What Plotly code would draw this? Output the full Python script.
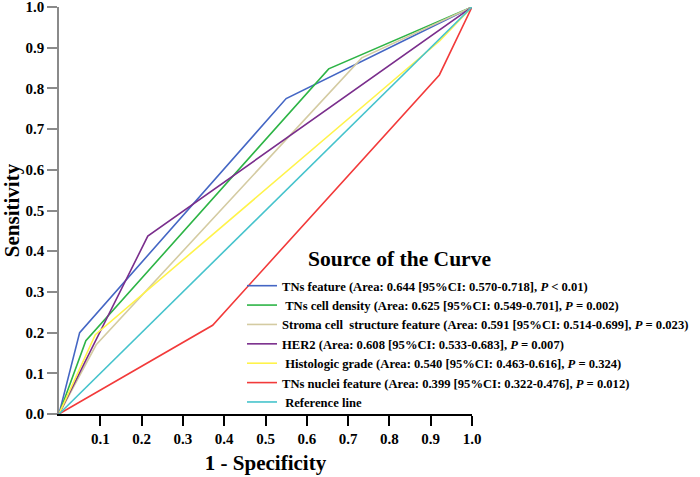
import plotly.graph_objects as go

# ROC curve points (1 - Specificity, Sensitivity)
tns_feature_x = [0.0, 0.05, 0.55, 1.0]
tns_feature_y = [0.0, 0.20, 0.775, 1.0]

tns_density_x = [0.0, 0.065, 0.653, 1.0]
tns_density_y = [0.0, 0.18, 0.848, 1.0]

stroma_x = [0.0, 0.09, 0.733, 1.0]
stroma_y = [0.0, 0.17, 0.875, 1.0]

her2_x = [0.0, 0.215, 1.0]
her2_y = [0.0, 0.437, 1.0]

grade_x = [0.0, 0.088, 0.922, 1.0]
grade_y = [0.0, 0.195, 0.917, 1.0]

nuclei_x = [0.0, 0.372, 0.921, 1.0]
nuclei_y = [0.0, 0.218, 0.833, 1.0]

ref_x = [0.0, 1.0]
ref_y = [0.0, 1.0]

names = [
    "TNs feature (Area: 0.644 [95%CI: 0.570-0.718], <i>P</i> &lt; 0.01)",
    "\u00a0TNs cell density (Area: 0.625 [95%CI: 0.549-0.701], <i>P</i> = 0.002)",
    "Stroma cell\u00a0 structure feature (Area: 0.591 [95%CI: 0.514-0.699], <i>P</i> = 0.023)",
    "HER2 (Area: 0.608 [95%CI: 0.533-0.683], <i>P</i> = 0.007)",
    "\u00a0Histologic grade (Area: 0.540 [95%CI: 0.463-0.616], <i>P</i> = 0.324)",
    "TNs nuclei feature (Area: 0.399 [95%CI: 0.322-0.476], <i>P</i> = 0.012)",
    "\u00a0Reference line",
]
colors = ["#4466C4", "#2DB446", "#D4CBA2", "#7A2E8C", "#FFF34A", "#F23A3A", "#45C3CC"]
xs = [tns_feature_x, tns_density_x, stroma_x, her2_x, grade_x, nuclei_x, ref_x]
ys = [tns_feature_y, tns_density_y, stroma_y, her2_y, grade_y, nuclei_y, ref_y]

x_ticks = [0.1, 0.2, 0.3, 0.4, 0.5, 0.6, 0.7, 0.8, 0.9, 1.0]
y_ticks = [0.0, 0.1, 0.2, 0.3, 0.4, 0.5, 0.6, 0.7, 0.8, 0.9, 1.0]

FONT = "Liberation Serif"

fig = go.Figure()
for x, y, n, c in zip(xs, ys, names, colors):
    fig.add_trace(go.Scatter(x=x, y=y, mode="lines", name="<b>" + n + "</b>",
                             line=dict(color=c, width=1.6), cliponaxis=False))

fig.update_layout(
    template="none",
    width=700, height=477,
    margin=dict(l=59, r=228, t=7, b=63, autoexpand=False),
    plot_bgcolor="white", paper_bgcolor="white",
    font=dict(family=FONT, color="black"),
    showlegend=True,
    legend=dict(
        x=(242 - 59) / 413, y=(414 - 271) / 407, xanchor="left", yanchor="top",
        bgcolor="rgba(0,0,0,0)", borderwidth=0,
        font=dict(family=FONT, size=12.6, color="black"),
        itemwidth=30, tracegroupgap=0,
    ),
    annotations=[dict(
        text="<b>Source of the Curve</b>", xref="paper", yref="paper",
        x=(306 - 59) / 413, y=(414 - 259) / 407, xanchor="left", yanchor="middle",
        showarrow=False, font=dict(family=FONT, size=21.5, color="black"),
    )],
)

fig.update_xaxes(
    range=[0, 1], tickvals=x_ticks, ticktext=["<b>%.1f</b>" % v for v in x_ticks],
    showgrid=False, zeroline=False, showline=True, linecolor="black", linewidth=1.5,
    ticks="outside", ticklen=10, tickwidth=1.5, tickcolor="black",
    tickfont=dict(family=FONT, size=15, color="black"), automargin=False,
    ticklabeloverflow="allow",
    title=dict(text="<b>1 - Specificity</b>", font=dict(family=FONT, size=21, color="black"), standoff=10),
)
fig.update_yaxes(
    range=[0, 1], tickvals=y_ticks, ticktext=["<b>%.1f</b>" % v for v in y_ticks],
    showgrid=False, zeroline=False, showline=True, linecolor="#8a8a8a", linewidth=1.5,
    ticks="outside", ticklen=10, tickwidth=1.5, tickcolor="#8a8a8a",
    tickfont=dict(family=FONT, size=15, color="black"), automargin=False,
    ticklabeloverflow="allow",
    title=dict(text="<b>Sensitivity</b>", font=dict(family=FONT, size=21, color="black"), standoff=4),
)

fig.write_html("out.html", config={"displayModeBar": False},
               post_script="document.body.style.margin='0';document.body.style.overflow='hidden';")
